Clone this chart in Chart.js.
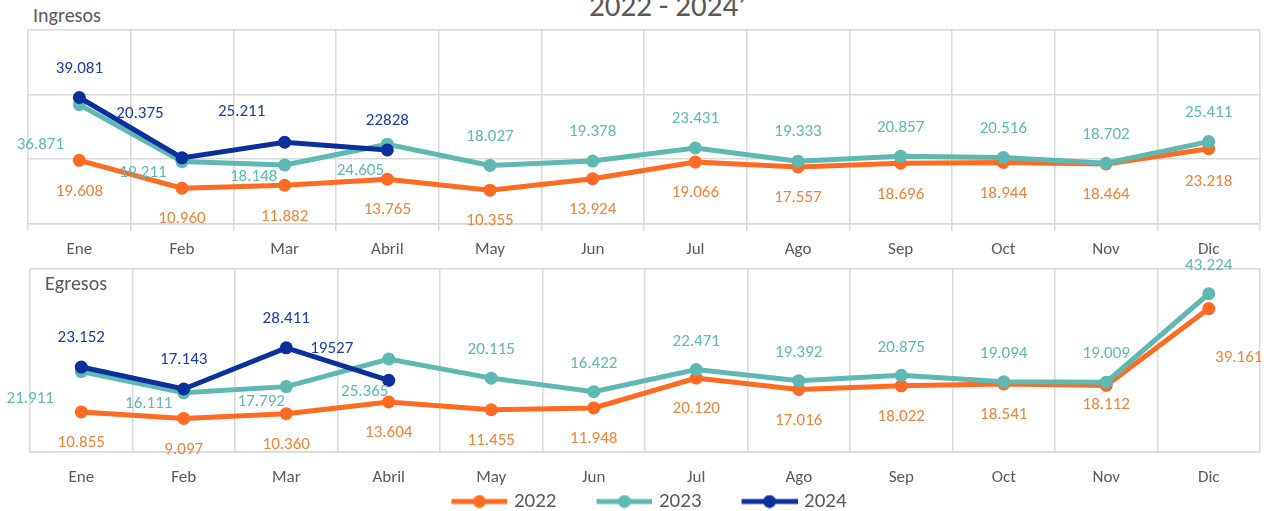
<!DOCTYPE html>
<html>
<head>
<meta charset="utf-8">
<script src="https://cdn.jsdelivr.net/npm/chart.js@4.4.1/dist/chart.umd.min.js"></script>
<style>
body { margin: 0; background: #fff; width: 1276px; height: 511px; overflow: hidden; position: relative; font-family: Carlito, Lato, sans-serif; }
#titulo { position: absolute; left: 589px; top: -14px; font-size: 31px; color: #595959; white-space: nowrap; }
#lblIng { position: absolute; left: 33px; top: 3px; font-size: 20px; color: #595959; }
#lblEgr { position: absolute; left: 45px; top: 271px; font-size: 20px; color: #595959; z-index: 2; }
#topWrap { position: absolute; left: 0; top: 0; }
#botWrap { position: absolute; left: 0; top: 252px; }
</style>
</head>
<body>
<div id="titulo">2022 - 2024’</div>
<div id="lblIng">Ingresos</div>
<div id="lblEgr">Egresos</div>
<div id="topWrap"><canvas id="ingChart" width="1276" height="269"></canvas></div>
<div id="botWrap"><canvas id="egrChart" width="1276" height="270"></canvas></div>
<script>
//DATA
var meses = ["Ene", "Feb", "Mar", "Abril", "May", "Jun", "Jul", "Ago", "Sep", "Oct", "Nov", "Dic"];
var anios = ["2022", "2023", "2024"];

var ingresos2022 = [19608, 10960, 11882, 13765, 10355, 13924, 19066, 17557, 18696, 18944, 18464, 23218];
var ingresos2023 = [36871, 19211, 18148, 24605, 18027, 19378, 23431, 19333, 20857, 20516, 18702, 25411];
var ingresos2024 = [39081, 20375, 25211, 22828, null, null, null, null, null, null, null, null];

var egresos2022 = [10855, 9097, 10360, 13604, 11455, 11948, 20120, 17016, 18022, 18541, 18112, 39161];
var egresos2023 = [21911, 16111, 17792, 25365, 20115, 16422, 22471, 19392, 20875, 19094, 19009, 43224];
var egresos2024 = [23152, 17143, 28411, 19527, null, null, null, null, null, null, null, null];

// label text as printed on the original (2024 Abril has no separator)
var textoIng2024 = ["39.081", "20.375", "25.211", "22828"];
var textoEgr2024 = ["23.152", "17.143", "28.411", "19527"];

//STYLE CONFIG
var FONT = "Carlito, Lato, sans-serif";
var colLinea = ["#FF6B22", "#5DB9B1", "#0B2F9C"];
var colTexto = ["#F0843A", "#5DBAB2", "#1A3DA5"];
var gridCol = "#D9D9D9";
var legendGap = 41;

// label offsets [dx, dy] from the point, default per series plus exceptions by month index
var despIng = [
    { base: [0, 31], extra: { 11: [0, 33] } },
    { base: [0, -29], extra: { 0: [-39, 40], 1: [-39, 11], 2: [-31, 12], 3: [-27, 27] } },
    { base: [0, -29], extra: { 1: [-42, -44], 2: [-43, -31] } }
];
var despEgr = [
    { base: [0, 31], extra: { 10: [0, 19], 11: [30, 49] } },
    { base: [0, -28], extra: { 0: [-51, 27], 1: [-35, 11], 2: [-25, 15], 3: [-24, 33] } },
    { base: [0, -29], extra: { 3: [-57, -32] } }
];

function fmt(v) {
    var s = String(v);
    return s.slice(0, s.length - 3) + "." + s.slice(s.length - 3);
}

// data labels drawn next to each point
var etiquetasPlugin = {
    id: "etiquetas",
    afterDatasetsDraw: function(chart) {
        var ctx = chart.ctx;
        var cfg = chart.options.plugins.etiquetas;
        chart.data.datasets.forEach(function(ds, i) {
            var meta = chart.getDatasetMeta(i);
            var d = cfg.desp[i];
            ctx.save();
            ctx.font = "17px " + FONT;
            ctx.fillStyle = colTexto[i];
            ctx.textAlign = "center";
            ctx.textBaseline = "middle";
            meta.data.forEach(function(pt, j) {
                if (ds.data[j] == null) return;
                var off = d.extra[j] || d.base;
                var txt = (cfg.textos[i] && cfg.textos[i][j]) || fmt(ds.data[j]);
                ctx.fillText(txt, pt.x + off[0], pt.y + off[1]);
            });
            ctx.restore();
        });
    }
};

function makeDataset(label, data, idx) {
    return {
        label: label,
        data: data,
        borderColor: colLinea[idx],
        backgroundColor: colLinea[idx],
        pointBackgroundColor: colLinea[idx],
        pointBorderWidth: 0,
        pointRadius: 6.5,
        borderWidth: 5,
        tension: 0,
        spanGaps: false,
        order: 3 - idx
    };
}

// line + dot sample, with transparent room on the left for the spacing between items
function legendIcon(color) {
    var c = document.createElement("canvas");
    c.width = 56 + legendGap; c.height = 14;
    var g = c.getContext("2d");
    g.strokeStyle = color; g.lineWidth = 5;
    g.beginPath(); g.moveTo(legendGap, 7); g.lineTo(legendGap + 56, 7); g.stroke();
    g.fillStyle = color;
    g.beginPath(); g.arc(legendGap + 28, 7, 6.5, 0, Math.PI * 2); g.fill();
    return c;
}

function makeOptions(opt) {
    return {
        responsive: false,
        animation: false,
        layout: { padding: opt.padding },
        plugins: {
            legend: opt.legend,
            tooltip: { enabled: false },
            etiquetas: { desp: opt.desp, textos: opt.textos }
        },
        scales: {
            x: {
                offset: true,
                grid: { offset: true, color: gridCol, lineWidth: 1.5, drawTicks: opt.ticks, tickLength: 7, tickColor: gridCol },
                border: { display: true, color: gridCol, width: 1.5 },
                ticks: { color: "#595959", font: { family: FONT, size: 17 }, padding: opt.tickPad },
                afterFit: function(s) { s.height = s.height - opt.xTrim; }
            },
            y: {
                min: 0,
                max: opt.max,
                ticks: { display: false, stepSize: opt.step },
                grid: { color: gridCol, lineWidth: 1.5, drawTicks: false },
                border: { display: false },
                afterFit: function(s) { s.width = opt.yWidth; }
            }
        }
    };
}

//INGRESOS CHART
var ctxIng = document.getElementById("ingChart").getContext("2d");
new Chart(ctxIng, {
    type: "line",
    data: {
        labels: meses,
        datasets: [
            makeDataset(anios[0], ingresos2022, 0),
            makeDataset(anios[1], ingresos2023, 1),
            makeDataset(anios[2], ingresos2024, 2)
        ]
    },
    options: makeOptions({
        padding: { top: 30, left: 28, right: 16, bottom: 0 },
        yWidth: 0, xTrim: 0,
        max: 60000, step: 20000, ticks: true, tickPad: 9,
        legend: { display: false },
        desp: despIng, textos: [null, null, textoIng2024]
    }),
    plugins: [etiquetasPlugin]
});

//EGRESOS CHART
var ctxEgr = document.getElementById("egrChart").getContext("2d");
new Chart(ctxEgr, {
    type: "line",
    data: {
        labels: meses,
        datasets: [
            makeDataset(anios[0], egresos2022, 0),
            makeDataset(anios[1], egresos2023, 1),
            makeDataset(anios[2], egresos2024, 2)
        ]
    },
    options: makeOptions({
        padding: { top: 17, left: 1, right: 16, bottom: 0 },
        yWidth: 29, xTrim: 16,
        max: 50000, step: 50000, ticks: false, tickPad: 16,
        legend: {
            display: true,
            position: "bottom",
            labels: {
                usePointStyle: true,
                pointStyleWidth: 48 + legendGap,
                padding: 3,
                color: "#595959",
                font: { family: FONT, size: 21 },
                generateLabels: function(chart) {
                    return chart.data.datasets.map(function(ds, i) {
                        return {
                            text: ds.label,
                            pointStyle: legendIcon(colLinea[i]),
                            fillStyle: colLinea[i],
                            strokeStyle: colLinea[i],
                            lineWidth: 0,
                            fontColor: "#595959",
                            datasetIndex: i
                        };
                    });
                }
            }
        },
        desp: despEgr, textos: [null, null, textoEgr2024]
    }),
    plugins: [etiquetasPlugin]
});
</script>
</body>
</html>
